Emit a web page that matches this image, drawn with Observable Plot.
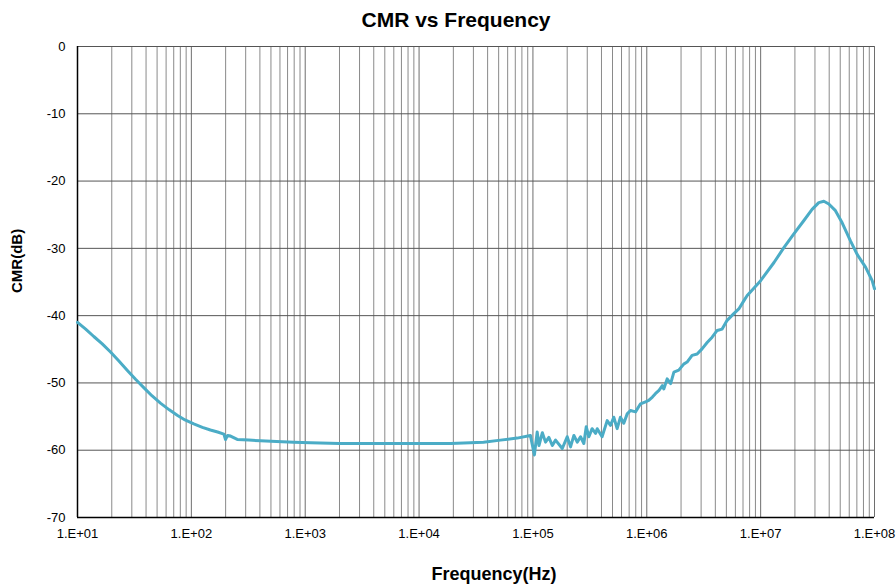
<!DOCTYPE html>
<html>
<head>
<meta charset="utf-8">
<script src="https://cdn.jsdelivr.net/npm/d3@7"></script>
<script src="https://cdn.jsdelivr.net/npm/@observablehq/plot@0.6"></script>
<style>
  html, body { margin: 0; padding: 0; background: white; }
  #title {
    width: 896px; height: 36px; box-sizing: border-box;
    padding-top: 6px; padding-left: 16px; line-height: 28px;
    text-align: center; font-family: "Liberation Sans", Arial, sans-serif;
    font-weight: bold; font-size: 21px; color: #000;
  }
</style>
</head>
<body>
<div id="title">CMR vs Frequency</div>
<div id="chart"></div>
<script>
// Frequency (Hz)
const freq = [
  10, 11.8, 13.9, 16.5, 19.5, 23, 27.3, 32.5, 38.2, 45, 53.5, 64, 75.1, 88, 105, 125, 147, 170, 193, 199.5, 208, 221, 253, 320, 405, 560, 794, 1112,
  2000, 5000, 10000, 18900, 36800, 51900, 72700, 95000,
  103000, 109000, 113000, 121000, 129000, 138000, 148000, 158000, 181000, 200000,
  214000, 229000, 245000, 262000, 280000, 294000, 310000, 331000, 355000, 367000,
  405000, 449000, 480000, 513000, 549000, 587000, 628000, 673000, 719000, 796000,
  881000, 975000, 1.04e6, 1.12e6, 1.19e6, 1.28e6, 1.37e6, 1.41e6, 1.51e6, 1.62e6,
  1.73e6, 1.91e6, 2.11e6, 2.26e6, 2.50e6, 2.77e6, 3.07e6, 3.39e6, 3.75e6, 4.15e6,
  4.59e6, 5.08e6, 5.81e6, 6.43e6, 7.11e6, 7.62e6, 1e7, 1.31e7, 1.60e7, 1.95e7,
  2.39e7, 2.83e7, 3.24e7, 3.59e7, 3.97e7, 4.54e7, 5.20e7, 6.15e7, 7.04e7, 8.34e7,
  9.54e7, 1e8
];
// CMR (dB)
const cmr = [
  -41.0, -42.0, -43.1, -44.2, -45.4, -46.7, -48.1, -49.5, -50.7, -51.9, -53.0, -54.0, -54.8, -55.5, -56.1, -56.6, -57.0, -57.3, -57.6, -58.4, -57.8, -57.9, -58.4, -58.5, -58.6, -58.7, -58.8, -58.9,
  -59.0, -59.0, -59.0, -59.0, -58.8, -58.5, -58.2, -57.8,
  -60.7, -57.3, -59.3, -57.4, -58.8, -58.1, -59.3, -58.5, -59.75, -58.0,
  -59.5, -57.8, -58.8, -58.0, -59.0, -56.5, -58.0, -56.8, -57.5, -56.8,
  -58.0, -55.6, -56.3, -55.1, -56.8, -55.1, -56.0, -54.6, -54.1, -54.3,
  -53.1, -52.8, -52.6, -52.1, -51.6, -51.1, -50.4, -50.9, -49.4, -50.1,
  -48.4, -48.1, -47.2, -46.9, -45.9, -45.7, -44.9, -44.0, -43.2, -42.2,
  -42.0, -40.7, -39.7, -39.0, -37.8, -37.0, -34.8, -32.1, -29.9, -27.9,
  -25.9, -24.2, -23.2, -23.0, -23.4, -24.4, -26.2, -28.9, -30.9, -32.8,
  -34.8, -36.0
];
const xTicks = [1e1, 1e2, 1e3, 1e4, 1e5, 1e6, 1e7, 1e8];
const xTickLabels = ["1.E+01", "1.E+02", "1.E+03", "1.E+04", "1.E+05", "1.E+06", "1.E+07", "1.E+08"];
const yTicks = [0, -10, -20, -30, -40, -50, -60, -70];
const minorMultipliers = [2, 3, 4, 5, 6, 7, 8, 9];
const xTitle = "Frequency(Hz)";
const yTitle = "CMR(dB)";

const data = freq.map((f, i) => ({f, v: cmr[i]}));
const minorX = [];
for (const d of xTicks.slice(0, -1)) for (const m of minorMultipliers) minorX.push(d * m);

const chart = Plot.plot({
  width: 896,
  height: 550,
  marginTop: 10,
  marginBottom: 69,
  marginLeft: 77,
  marginRight: 22,
  style: {fontFamily: "'Liberation Sans', Arial, sans-serif", fontSize: "13px", background: "white", color: "#000"},
  x: {type: "log", domain: [1e1, 1e8], ticks: xTicks, tickFormat: (d) => xTickLabels[xTicks.indexOf(d)] ?? "",
      tickSize: 0, tickPadding: 11, label: null},
  y: {domain: [-70, 0], ticks: yTicks, tickFormat: (d) => String(d), tickSize: 0, tickPadding: 12, label: null},
  marks: [
    Plot.ruleX(minorX, {stroke: "#8a8a8a", strokeWidth: 1}),
    Plot.ruleX(xTicks, {stroke: "#6e6e6e", strokeWidth: 1}),
    Plot.ruleY(yTicks, {stroke: "#555", strokeWidth: 1}),
    Plot.ruleX([1e1], {stroke: "#000", strokeWidth: 1.5}),
    Plot.ruleY([-70], {stroke: "#000", strokeWidth: 1.5}),
    Plot.line(data, {x: "f", y: "v", stroke: "#4BACC6", strokeWidth: 3, strokeLinejoin: "round", strokeLinecap: "round"}),
    Plot.text([xTitle], {frameAnchor: "bottom", text: (d) => d, dy: 57, dx: 18, lineAnchor: "middle",
      fontWeight: "bold", fontSize: 18, fill: "#000"}),
    Plot.text([yTitle], {frameAnchor: "left", text: (d) => d, dx: -60, dy: 11, rotate: -90, lineAnchor: "middle",
      fontWeight: "bold", fontSize: 15, fill: "#000"})
  ]
});
document.getElementById("chart").appendChild(chart);
</script>
</body>
</html>
